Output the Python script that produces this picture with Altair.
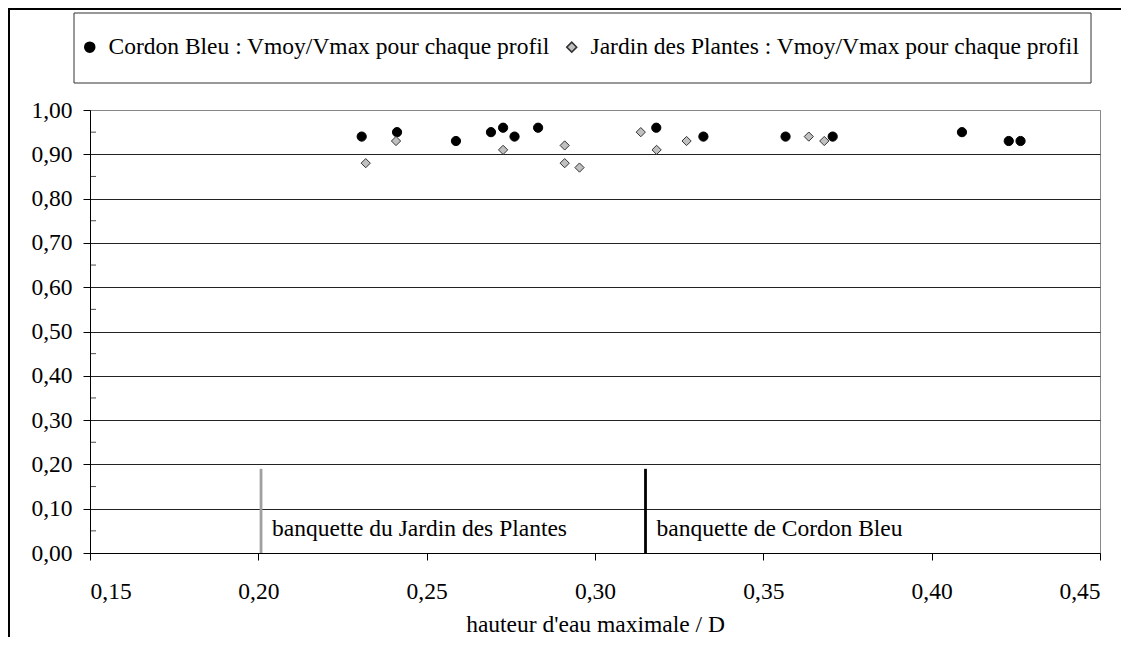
import altair as alt
import pandas as pd

# Series values
cb_x = [0.2307, 0.2412, 0.2587, 0.2691, 0.2727, 0.2761, 0.2831, 0.3182, 0.3322,
        0.3566, 0.3706, 0.4090, 0.4229, 0.4264]
cb_y = [0.94, 0.95, 0.93, 0.95, 0.96, 0.94, 0.96, 0.96, 0.94, 0.94, 0.94, 0.95, 0.93, 0.93]

jp_x = [0.2319, 0.2409, 0.2727, 0.2910, 0.2910, 0.2954, 0.3136, 0.3183, 0.3272, 0.3635, 0.3681]
jp_y = [0.88, 0.93, 0.91, 0.92, 0.88, 0.87, 0.95, 0.91, 0.93, 0.94, 0.93]

series_names = ["Cordon Bleu : Vmoy/Vmax pour chaque profil",
                "Jardin des Plantes : Vmoy/Vmax pour chaque profil"]

banq_x = [0.2008, 0.315]
banq_top = [0.19, 0.19]
banq_label = ["banquette du Jardin des Plantes", "banquette de Cordon Bleu"]
banq_label_y = [0.055, 0.055]

x_ticks = [0.15, 0.20, 0.25, 0.30, 0.35, 0.40, 0.45]
y_ticks = [0.0, 0.1, 0.2, 0.3, 0.4, 0.5, 0.6, 0.7, 0.8, 0.9, 1.0]
y_minor = [0.05, 0.15, 0.25, 0.35, 0.45, 0.55, 0.65, 0.75, 0.85, 0.95]

FONT = "Liberation Serif"
FS = 23.5

pts = pd.DataFrame({
    "x": cb_x + jp_x,
    "y": cb_y + jp_y,
    "serie": [series_names[0]] * len(cb_x) + [series_names[1]] * len(jp_x),
})
banq = pd.DataFrame({"x": banq_x, "y0": [0.0, 0.0], "y1": banq_top,
                     "label": banq_label, "ly": banq_label_y,
                     "kind": ["jp", "cb"]})
minor = pd.DataFrame({"y": y_minor})
one = pd.DataFrame({"a": [0]})

xscale = alt.Scale(domain=[0.15, 0.45], nice=False, zero=False)
yscale = alt.Scale(domain=[0.0, 1.0], nice=False)

comma = "replace(format(datum.value, '.2f'), '.', ',')"

leg = alt.Legend(title=None, orient="none", legendX=-12, legendY=-75, direction="horizontal",
                 labelFont=FONT, labelFontSize=FS, labelColor="black", labelLimit=700,
                 labelOffset=7)

points = alt.Chart(pts).mark_point(opacity=1, strokeWidth=1, size=85).encode(
    x=alt.X("x:Q", scale=xscale,
            axis=alt.Axis(values=x_ticks, labelExpr=comma, grid=False, tickSize=7,
                          labelPadding=19, title="hauteur d'eau maximale / D",
                          titlePadding=10)),
    y=alt.Y("y:Q", scale=yscale,
            axis=alt.Axis(values=y_ticks, labelExpr=comma, grid=True, tickSize=7,
                          labelPadding=11, title=None,
                          gridColor=alt.condition("datum.value >= 1", alt.value("#888888"),
                                                  alt.value("#222222")))),
    shape=alt.Shape("serie:N", scale=alt.Scale(domain=series_names, range=["circle", "diamond"]),
                    legend=leg),
    fill=alt.Fill("serie:N", scale=alt.Scale(domain=series_names, range=["black", "#c0c0c0"]),
                  legend=leg),
    stroke=alt.Stroke("serie:N", scale=alt.Scale(domain=series_names, range=["black", "#333333"]),
                      legend=leg),
)

rules = alt.Chart(banq).mark_rule(strokeWidth=2.8).encode(
    x=alt.X("x:Q", scale=xscale),
    y=alt.Y("y0:Q", scale=yscale),
    y2="y1:Q",
    color=alt.Color("kind:N", scale=alt.Scale(domain=["jp", "cb"], range=["#a0a0a0", "black"]),
                    legend=None),
)

labels = alt.Chart(banq).mark_text(align="left", baseline="middle", dx=11, font=FONT,
                                   fontSize=FS, color="black").encode(
    x=alt.X("x:Q", scale=xscale),
    y=alt.Y("ly:Q", scale=yscale),
    text="label:N",
)

minor_ticks = alt.Chart(minor).mark_tick(orient="horizontal", size=6, thickness=1,
                                         color="black").encode(
    x=alt.value(3),
    y=alt.Y("y:Q", scale=yscale),
)

legend_box = alt.Chart(one).mark_rect(fillOpacity=0, stroke="#333333", strokeWidth=1).encode(
    x=alt.value(-16), x2=alt.value(1001), y=alt.value(-97), y2=alt.value(-27)
)

frame_top = alt.Chart(one).mark_rule(color="black", strokeWidth=2).encode(
    x=alt.value(-81), x2=alt.value(1040), y=alt.value(-101)
)
frame_left = alt.Chart(one).mark_rule(color="black", strokeWidth=2).encode(
    x=alt.value(-81), y=alt.value(-102), y2=alt.value(540)
)

chart = alt.layer(frame_top, frame_left, legend_box, rules, labels, minor_ticks, points).properties(
    width=1010, height=443,
    background="white",
    autosize=alt.AutoSizeParams(type="none"),
    padding={"left": 82, "top": 102, "right": 21, "bottom": 84},
).configure_view(
    stroke="#888888", strokeWidth=1
).configure_axis(
    labelFont=FONT, labelFontSize=FS, labelColor="black",
    titleFont=FONT, titleFontSize=FS, titleFontWeight="normal", titleColor="black",
    domainColor="black", tickColor="black", domainWidth=1, tickWidth=1, gridWidth=1,
)

chart.save("out.html", embed_options={"renderer": "svg", "actions": False})
